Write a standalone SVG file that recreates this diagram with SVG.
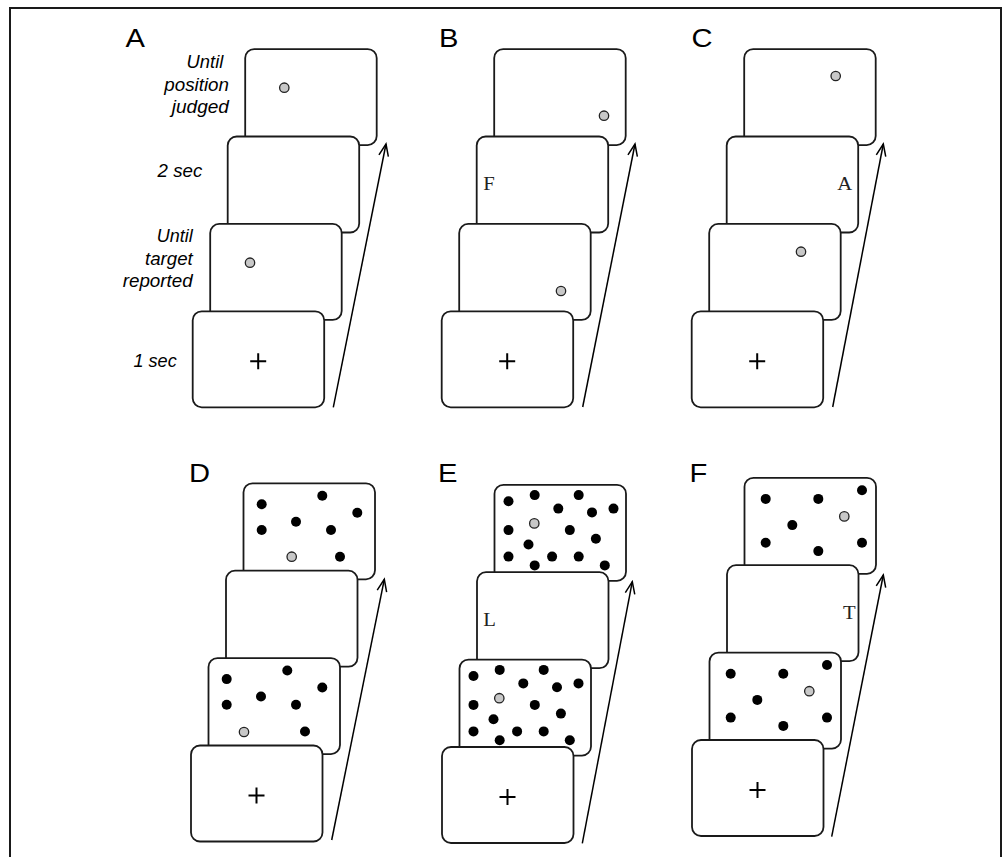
<svg xmlns="http://www.w3.org/2000/svg" width="1003" height="857" viewBox="0 0 1003 857">
<style>
.frame{fill:none;stroke:#1a1a1a;stroke-width:2}
.card{fill:#fff;stroke:#1a1a1a;stroke-width:1.8}
.blk{fill:#000}
.gry{fill:#c8c8c8;stroke:#222;stroke-width:1.3}
.plus{stroke:#000;stroke-width:2;fill:none}
.lbl{font-family:"Liberation Sans",Arial,sans-serif;font-size:26.5px;fill:#000}
.it{font-family:"Liberation Sans",Arial,sans-serif;font-size:17.5px;font-style:italic;fill:#000;text-anchor:end}
.ser{font-family:"Liberation Serif","Times New Roman",serif;font-size:18.5px;fill:#222}
.arr{fill:none;stroke:#000;stroke-width:1.5}
</style>
<defs>
<marker id="head" markerUnits="userSpaceOnUse" viewBox="-14 -7 16 14" markerWidth="16" markerHeight="14" refX="0" refY="0" orient="auto">
<path d="M-12,-4.8 L0,0 L-12,4.8" fill="none" stroke="#000" stroke-width="1.5"/>
</marker>
<rect id="scr" class="card" x="0" y="0" width="131.5" height="96" rx="9"/>
<path id="cross" class="plus" d="M57.5,50 H73.5 M65.5,42 V58"/>
<g id="dotsD">
<circle class="blk" cx="18.2" cy="21" r="5"/><circle class="blk" cx="78.8" cy="12.4" r="5"/><circle class="blk" cx="113.8" cy="29.4" r="5"/><circle class="blk" cx="52.5" cy="38.4" r="5"/><circle class="blk" cx="18.2" cy="46.7" r="5"/><circle class="blk" cx="87.5" cy="46.7" r="5"/><circle class="blk" cx="96.5" cy="73.4" r="5"/>
</g>
<g id="dotsE">
<circle class="blk" cx="14" cy="16.4" r="5"/><circle class="blk" cx="40.2" cy="10.3" r="5"/><circle class="blk" cx="84.2" cy="10.3" r="5"/><circle class="blk" cx="63.8" cy="23.8" r="5"/><circle class="blk" cx="97.5" cy="27.6" r="5"/><circle class="blk" cx="119" cy="23.8" r="5"/><circle class="blk" cx="14" cy="45.3" r="5"/><circle class="blk" cx="75.3" cy="45.3" r="5"/><circle class="blk" cx="101.4" cy="54" r="5"/><circle class="blk" cx="34" cy="59.7" r="5"/><circle class="blk" cx="14" cy="71.8" r="5"/><circle class="blk" cx="57.6" cy="71.8" r="5"/><circle class="blk" cx="84.2" cy="71.8" r="5"/><circle class="blk" cx="40.2" cy="80.6" r="5"/><circle class="blk" cx="110.3" cy="80.6" r="5"/>
<circle class="gry" cx="39.8" cy="38.6" r="4.7"/>
</g>
<g id="dotsF">
<circle class="blk" cx="21.2" cy="21.1" r="5"/><circle class="blk" cx="73.8" cy="21.1" r="5"/><circle class="blk" cx="117.5" cy="12.4" r="5"/><circle class="blk" cx="47.8" cy="47.3" r="5"/><circle class="blk" cx="21.2" cy="65" r="5"/><circle class="blk" cx="73.8" cy="73.3" r="5"/><circle class="blk" cx="117.5" cy="65" r="5"/>
<circle class="gry" cx="99.8" cy="38.6" r="4.7"/>
</g>
</defs>
<rect width="1003" height="857" fill="#fff"/>
<path class="frame" d="M10,857 V8 H1001 V857"/>

<g id="panelA">
<text class="lbl" transform="translate(125.5,47) scale(1.1,1)">A</text>
<text class="it" x="223.3" y="68.3" textLength="36.7" lengthAdjust="spacingAndGlyphs">Until</text>
<text class="it" x="229" y="90.5" textLength="64.7" lengthAdjust="spacingAndGlyphs">position</text>
<text class="it" x="229" y="112.5" textLength="57.3" lengthAdjust="spacingAndGlyphs">judged</text>
<text class="it" x="202.3" y="176.7" textLength="44.7" lengthAdjust="spacingAndGlyphs">2 sec</text>
<text class="it" x="192.7" y="242.3" textLength="36" lengthAdjust="spacingAndGlyphs">Until</text>
<text class="it" x="192.7" y="264.5" textLength="47.7" lengthAdjust="spacingAndGlyphs">target</text>
<text class="it" x="192.7" y="286.7" textLength="70" lengthAdjust="spacingAndGlyphs">reported</text>
<text class="it" x="176.7" y="366.7" textLength="43.3" lengthAdjust="spacingAndGlyphs">1 sec</text>
<g id="A4" transform="translate(245.2,49.1)"><use href="#scr"/><circle class="gry" cx="39.1" cy="38.6" r="4.7"/></g>
<g id="A3" transform="translate(227.7,136.5)"><use href="#scr"/></g>
<g id="A2" transform="translate(210.2,223.9)"><use href="#scr"/><circle class="gry" cx="39.8" cy="38.8" r="4.7"/></g>
<g id="A1" transform="translate(192.7,311.3)"><use href="#scr"/><use href="#cross"/></g>
</g>

<g id="panelB">
<text class="lbl" transform="translate(439,47) scale(1.1,1)">B</text>
<g id="B4" transform="translate(494.2,49.1)"><use href="#scr"/><circle class="gry" cx="109.8" cy="66.6" r="4.7"/></g>
<g id="B3" transform="translate(476.7,136.5)"><use href="#scr"/><text class="ser" transform="translate(6.6,53.5) scale(1.12,1)">F</text></g>
<g id="B2" transform="translate(459.2,223.9)"><use href="#scr"/><circle class="gry" cx="101.8" cy="67.1" r="4.7"/></g>
<g id="B1" transform="translate(441.7,311.3)"><use href="#scr"/><use href="#cross"/></g>
</g>

<g id="panelC">
<text class="lbl" transform="translate(691.5,47) scale(1.1,1)">C</text>
<g id="C4" transform="translate(744.2,49.1)"><use href="#scr"/><circle class="gry" cx="91.5" cy="26.9" r="4.7"/></g>
<g id="C3" transform="translate(726.7,136.5)"><use href="#scr"/><text class="ser" transform="translate(110.5,53.5) scale(1.12,1)">A</text></g>
<g id="C2" transform="translate(709.2,223.9)"><use href="#scr"/><circle class="gry" cx="91.8" cy="27.8" r="4.7"/></g>
<g id="C1" transform="translate(691.7,311.3)"><use href="#scr"/><use href="#cross"/></g>
</g>

<g id="panelD">
<text class="lbl" transform="translate(189,481.7) scale(1.1,1)">D</text>
<g id="D4" transform="translate(243.5,483.3)"><use href="#scr"/><use href="#dotsD"/><circle class="gry" cx="48.2" cy="73.4" r="4.7"/></g>
<g id="D3" transform="translate(226,570.7)"><use href="#scr"/></g>
<g id="D2" transform="translate(208.5,658.1)"><use href="#scr"/><use href="#dotsD"/><circle class="gry" cx="35.5" cy="73.9" r="4.7"/></g>
<g id="D1" transform="translate(191,745.5)"><use href="#scr"/><use href="#cross"/></g>
</g>

<g id="panelE">
<text class="lbl" transform="translate(438,481.7) scale(1.1,1)">E</text>
<g id="E4" transform="translate(494.5,484.8)"><use href="#scr"/><use href="#dotsE"/></g>
<g id="E3" transform="translate(477,572.2)"><use href="#scr"/><text class="ser" transform="translate(6.3,53.5) scale(1.12,1)">L</text></g>
<g id="E2" transform="translate(459.5,659.6)"><use href="#scr"/><use href="#dotsE"/></g>
<g id="E1" transform="translate(442,747)"><use href="#scr"/><use href="#cross"/></g>
</g>

<g id="panelF">
<text class="lbl" transform="translate(689.5,481.7) scale(1.1,1)">F</text>
<g id="F4" transform="translate(744.5,477.8)"><use href="#scr"/><use href="#dotsF"/></g>
<g id="F3" transform="translate(727,565.2)"><use href="#scr"/><text class="ser" transform="translate(116,53.8) scale(1.12,1)">T</text></g>
<g id="F2" transform="translate(709.5,652.6)"><use href="#scr"/><use href="#dotsF"/></g>
<g id="F1" transform="translate(692,740)"><use href="#scr"/><use href="#cross"/></g>
</g>

<g id="connectors">
<line class="arr" x1="333.3" y1="407.3" x2="386" y2="144" marker-end="url(#head)"/>
<line class="arr" x1="582.7" y1="407" x2="635" y2="144" marker-end="url(#head)"/>
<line class="arr" x1="832.7" y1="407" x2="883.3" y2="144" marker-end="url(#head)"/>
<line class="arr" x1="331.7" y1="840" x2="384.3" y2="579.3" marker-end="url(#head)"/>
<line class="arr" x1="582.3" y1="843.3" x2="632.3" y2="581.7" marker-end="url(#head)"/>
<line class="arr" x1="831.7" y1="836.7" x2="883.3" y2="575" marker-end="url(#head)"/>
</g>
</svg>
